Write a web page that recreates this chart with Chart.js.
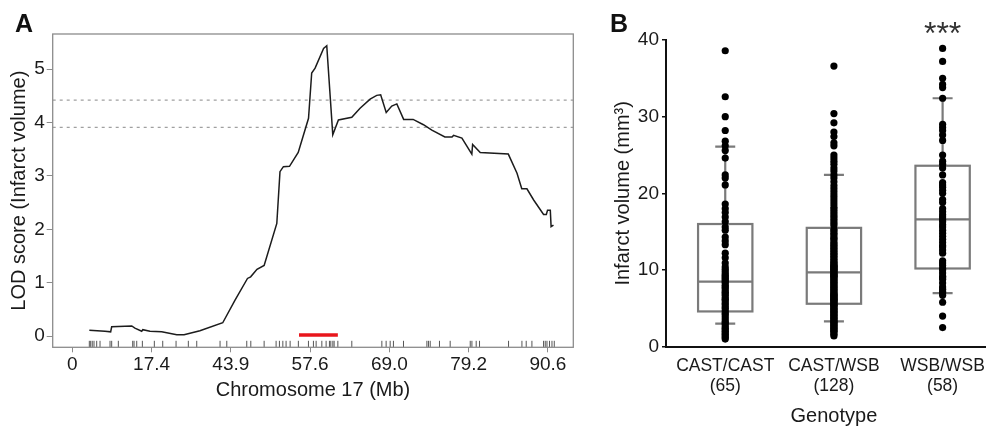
<!DOCTYPE html>
<html lang="en">
<head>
<meta charset="UTF-8">
<title>Chromosome 17 LOD scan and infarct volume by genotype</title>
<script src="https://cdn.jsdelivr.net/npm/chart.js@4.4.1/dist/chart.umd.min.js"></script>
<style>
  html, body { margin: 0; padding: 0; background: #fff; }
  #wrap { position: relative; width: 989px; height: 428px; overflow: hidden; }
  #lod { position: absolute; left: 0; top: 0; }
  #box { position: absolute; left: 600px; top: 0; }
</style>
</head>
<body>
<div id="wrap">
  <canvas id="lod" width="600" height="428"></canvas>
  <canvas id="box" width="389" height="428"></canvas>
</div>
<script>
// ---- panel A data (x in tick units: tick i sits at position i) ----
const xTickLabels = ['0', '17.4', '43.9', '57.6', '69.0', '79.2', '90.6'];
const lodTicks = [0, 1, 2, 3, 4, 5];
const lodPos = [0.215, 0.413, 0.484, 0.497, 0.75, 0.79, 0.876, 0.89, 0.98, 1.128,
  1.318, 1.41, 1.61, 1.898, 2.053, 2.21, 2.25, 2.33, 2.42, 2.58,
  2.62, 2.663, 2.74, 2.85, 2.98, 3.02, 3.063, 3.17, 3.21, 3.286,
  3.357, 3.526, 3.63, 3.757, 3.84, 3.89, 3.96, 4.03, 4.094, 4.18,
  4.30, 4.43, 4.536, 4.70, 4.79, 4.81, 4.915, 5.04, 5.05, 5.146,
  5.50, 5.61, 5.67, 5.735, 5.82, 5.945, 5.98, 5.995, 6.03, 6.04, 6.07];
const lodScore = [0.11, 0.09, 0.08, 0.175, 0.19, 0.15, 0.09, 0.12, 0.09, 0.08,
  0.025, 0.025, 0.10, 0.25, 0.675, 1.08, 1.11, 1.25, 1.325, 2.11,
  3.08, 3.175, 3.18, 3.44, 4.08, 4.93, 5.02, 5.39, 5.44, 3.77,
  4.05, 4.10, 4.27, 4.44, 4.51, 4.52, 4.19, 4.31, 4.35, 4.06,
  4.06, 3.96, 3.86, 3.73, 3.73, 3.76, 3.71, 3.41, 3.59, 3.44,
  3.41, 3.05, 2.76, 2.76, 2.55, 2.28, 2.28, 2.36, 2.36, 2.05, 2.08];
const thresholds = [4.42, 3.91];
const qtlInterval = [2.86, 3.35];
const markerPos = [0.215, 0.232, 0.252, 0.274, 0.308, 0.350, 0.476, 0.497, 0.581, 0.762,
  0.779, 0.813, 0.884, 1.035, 1.141, 1.309, 1.464, 1.570, 1.864, 1.949,
  2.201, 2.252, 2.420, 2.571, 2.613, 2.656, 2.697, 2.748, 2.852, 2.979,
  3.042, 3.076, 3.148, 3.202, 3.244, 3.261, 3.287, 3.303, 3.350, 3.526,
  3.905, 3.959, 4.010, 4.051, 4.178, 4.473, 4.493, 4.515, 4.632, 4.767,
  5.020, 5.041, 5.095, 5.137, 5.503, 5.672, 5.726, 5.798, 5.945, 5.966,
  5.988, 6.020, 6.051, 6.080];

// ---- panel B data ----
const genotypes = ['CAST/CAST', 'CAST/WSB', 'WSB/WSB'];
const groupSizes = [65, 128, 58];
const significance = ['', '', '***'];
const castCast = [38.6, 32.6, 30.0, 28.2, 26.8, 26.2, 25.6, 24.6, 22.4, 22.0,
  21.1, 18.6, 18.0, 17.5, 16.9, 16.3, 15.6, 15.2, 14.3, 13.8,
  13.3, 12.2, 11.6, 10.9, 10.4, 10.1, 9.8, 9.5, 9.3, 9.1,
  8.9, 8.7, 8.5, 8.3, 8.0, 7.8, 7.6, 7.3, 7.1, 6.9,
  6.7, 6.4, 6.2, 6.0, 5.7, 5.5, 5.2, 5.0, 4.7, 4.4,
  4.2, 3.9, 3.6, 3.3, 3.1, 2.9, 2.6, 2.4, 2.2, 2.0,
  1.8, 1.6, 1.4, 1.2, 1.0];
const castWsb = [36.6, 30.4, 29.2, 28.0, 27.4, 26.6, 26.2, 25.0, 24.6, 24.2,
  23.8, 23.3, 22.9, 22.4, 22.0, 21.5, 21.0, 20.6, 20.2, 19.8,
  19.4, 19.0, 18.6, 18.2, 17.9, 17.6, 17.3, 17.0, 16.7, 16.4,
  16.1, 15.8, 15.3, 15.1, 14.8, 14.6, 14.3, 14.1, 13.9, 13.6,
  13.4, 13.2, 13.0, 12.8, 12.6, 12.4, 12.2, 12.0, 11.8, 11.6,
  11.4, 11.2, 11.0, 10.9, 10.7, 10.6, 10.5, 10.4, 10.3, 10.2,
  10.1, 10.0, 9.9, 9.8, 9.6, 9.5, 9.4, 9.3, 9.2, 9.1,
  9.0, 8.8, 8.7, 8.5, 8.4, 8.2, 8.1, 7.9, 7.8, 7.6,
  7.5, 7.3, 7.2, 7.0, 6.9, 6.8, 6.7, 6.6, 6.5, 6.4,
  6.3, 6.2, 6.1, 6.0, 5.9, 5.8, 5.6, 5.5, 5.4, 5.3,
  5.2, 5.0, 4.9, 4.8, 4.6, 4.5, 4.4, 4.2, 4.1, 4.0,
  3.8, 3.7, 3.6, 3.4, 3.3, 3.2, 3.0, 2.9, 2.8, 2.6,
  2.5, 2.4, 2.2, 2.1, 2.0, 1.8, 1.6, 1.4];
const wsbWsb = [38.9, 37.2, 35.0, 34.2, 33.8, 32.4, 29.0, 28.6, 28.2, 27.6,
  26.9, 25.0, 24.2, 23.8, 23.3, 22.4, 21.4, 21.1, 20.8, 20.4,
  20.0, 19.2, 18.8, 18.0, 17.6, 17.2, 16.9, 16.6, 16.3, 15.9,
  15.6, 15.2, 14.8, 14.4, 14.0, 13.6, 13.2, 13.0, 12.6, 12.2,
  11.2, 10.9, 10.6, 10.2, 10.0, 9.6, 9.2, 9.0, 8.8, 8.3,
  7.8, 7.5, 7.2, 7.0, 6.7, 5.8, 4.0, 2.5];
const boxQ1 = [4.6, 5.6, 10.2];
const boxMedian = [8.5, 9.7, 16.6];
const boxQ3 = [16.0, 15.5, 23.6];
const whiskerLow = [3.0, 3.3, 7.0];
const whiskerHigh = [26.1, 22.4, 32.4];

Chart.defaults.font.family = "'Liberation Sans', Arial, sans-serif";
Chart.defaults.color = '#1a1a1a';

// panel letter
const panelLabel = {
  id: 'panelLabel',
  afterDraw(chart, args, opts) {
    const ctx = chart.ctx;
    ctx.save();
    ctx.font = 'bold 25px "Liberation Sans", Arial, sans-serif';
    ctx.fillStyle = '#111';
    ctx.textBaseline = 'alphabetic';
    ctx.fillText(opts.text, opts.x, opts.y);
    ctx.restore();
  }
};

// box round the plot area of A
const frame = {
  id: 'frame',
  afterDatasetsDraw(chart, args, opts) {
    const { ctx, chartArea: { left, top, width, height } } = chart;
    ctx.save();
    ctx.strokeStyle = opts.color;
    ctx.lineWidth = opts.width;
    ctx.strokeRect(left, top, width, height);
    ctx.restore();
  }
};

// boxes + whiskers for B
const boxes = {
  id: 'boxes',
  beforeDatasetsDraw(chart, args, opts) {
    const { ctx, scales: { x, y } } = chart;
    ctx.save();
    ctx.strokeStyle = opts.color;
    ctx.lineWidth = opts.width;
    genotypes.forEach((g, i) => {
      const l = x.getPixelForValue(i + 1 - opts.half);
      const r = x.getPixelForValue(i + 1 + opts.half);
      const cx = x.getPixelForValue(i + 1);
      const q1 = y.getPixelForValue(boxQ1[i]);
      const q3 = y.getPixelForValue(boxQ3[i]);
      const med = y.getPixelForValue(boxMedian[i]);
      const lo = y.getPixelForValue(whiskerLow[i]);
      const hi = y.getPixelForValue(whiskerHigh[i]);
      ctx.strokeRect(l, q3, r - l, q1 - q3);
      ctx.beginPath();
      ctx.moveTo(l, med); ctx.lineTo(r, med);
      ctx.moveTo(cx, q3); ctx.lineTo(cx, hi);
      ctx.moveTo(cx - opts.cap, hi); ctx.lineTo(cx + opts.cap, hi);
      ctx.moveTo(cx, q1); ctx.lineTo(cx, lo);
      ctx.moveTo(cx - opts.cap, lo); ctx.lineTo(cx + opts.cap, lo);
      ctx.stroke();
    });
    ctx.restore();
  }
};

// stars over groups + x title under the middle group
const notes = {
  id: 'notes',
  afterDraw(chart, args, opts) {
    const { ctx, scales: { x } } = chart;
    ctx.save();
    ctx.fillStyle = '#333';
    ctx.textAlign = 'center';
    ctx.font = '32px "Liberation Sans", Arial, sans-serif';
    significance.forEach((s, i) => {
      if (s) ctx.fillText(s, x.getPixelForValue(i + 1), 44);
    });
    ctx.fillStyle = '#1a1a1a';
    ctx.font = '20px "Liberation Sans", Arial, sans-serif';
    ctx.textBaseline = 'middle';
    ctx.fillText(opts.title, x.getPixelForValue(2), 416);
    ctx.restore();
  }
};

const X_MIN = -0.247, X_MAX = 6.32;

new Chart(document.getElementById('lod'), {
  type: 'scatter',
  data: {
    datasets: [
      {
        data: lodPos.map((p, i) => ({ x: p, y: lodScore[i] })),
        showLine: true, borderColor: '#1c1c1c', borderWidth: 1.5,
        pointRadius: 0, tension: 0
      },
      ...thresholds.map(t => ({
        data: [{ x: X_MIN, y: t }, { x: X_MAX, y: t }],
        showLine: true, borderColor: '#a0a0a0', borderWidth: 1.2,
        borderDash: [3, 4], pointRadius: 0
      })),
      {
        data: qtlInterval.map(p => ({ x: p, y: 0.02 })),
        showLine: true, borderColor: '#e8161c', borderWidth: 3.5, pointRadius: 0
      },
      {
        data: markerPos.map(p => ({ x: p, y: -0.15 })),
        pointStyle: 'line', rotation: 90, pointRadius: 3.3,
        borderColor: '#555', borderWidth: 1, clip: false
      }
    ]
  },
  options: {
    responsive: false,
    animation: false,
    layout: { padding: { top: 34, right: 26.7, left: 0, bottom: 0 } },
    plugins: {
      legend: { display: false },
      tooltip: { enabled: false },
      frame: { color: '#8c8c8c', width: 1.3 },
      panelLabel: { text: 'A', x: 15, y: 31.7 }
    },
    scales: {
      x: {
        type: 'linear', min: X_MIN, max: X_MAX,
        afterBuildTicks: s => { s.ticks = xTickLabels.map((_, i) => ({ value: i })); },
        afterFit: s => { s.height = 80.7; },
        ticks: {
          callback: v => xTickLabels[Math.round(v)],
          font: { size: 19 }, padding: 1, maxRotation: 0, autoSkip: false
        },
        grid: { drawOnChartArea: false, tickLength: 5, color: '#8c8c8c' },
        border: { display: false },
        title: { display: true, text: 'Chromosome 17 (Mb)', font: { size: 20 }, padding: { top: 0, bottom: 26 } }
      },
      y: {
        min: -0.21, max: 5.66,
        afterBuildTicks: s => { s.ticks = lodTicks.map(v => ({ value: v })); },
        afterFit: s => { s.width = 52.7; },
        ticks: { font: { size: 19 }, padding: 2 },
        grid: { drawOnChartArea: false, tickLength: 6, color: '#8c8c8c' },
        border: { display: false },
        title: { display: true, text: 'LOD score (Infarct volume)', font: { size: 20 }, padding: { top: 7, bottom: 0 } }
      }
    }
  },
  plugins: [frame, panelLabel]
});

const groups = [castCast, castWsb, wsbWsb];

new Chart(document.getElementById('box'), {
  type: 'scatter',
  data: {
    datasets: groups.map((vals, i) => ({
      data: vals.map(v => ({ x: i + 1, y: v })),
      pointRadius: 3.6, backgroundColor: '#000', borderWidth: 0, clip: false
    }))
  },
  options: {
    responsive: false,
    animation: false,
    layout: { padding: { top: 40, right: 0, left: 0, bottom: 0 } },
    plugins: {
      legend: { display: false },
      tooltip: { enabled: false },
      boxes: { color: '#7a7a7a', width: 2.2, half: 0.25, cap: 10 },
      notes: { title: 'Genotype' },
      panelLabel: { text: 'B', x: 10, y: 31.7 }
    },
    scales: {
      x: {
        type: 'linear', min: 0.455, max: 3.39,
        afterBuildTicks: s => { s.ticks = genotypes.map((_, i) => ({ value: i + 1 })); },
        afterFit: s => { s.height = 81.3; s.paddingLeft = 0; s.paddingRight = 0; },
        ticks: {
          callback: v => [genotypes[Math.round(v) - 1], '(' + groupSizes[Math.round(v) - 1] + ')'],
          font: { size: 17.5, lineHeight: 1.15 }, padding: 9, maxRotation: 0, autoSkip: false
        },
        grid: { display: false, drawTicks: false },
        border: { display: true, color: '#111', width: 2 },
        title: { display: false }
      },
      y: {
        min: 0, max: 40,
        afterFit: s => { s.width = 66; },
        ticks: { stepSize: 10, font: { size: 19 }, padding: 3 },
        grid: { drawOnChartArea: false, tickLength: 4, color: '#111', lineWidth: 1.5 },
        border: { display: true, color: '#111', width: 2 },
        title: { display: true, text: 'Infarct volume (mm³)', font: { size: 20 }, padding: { top: 11, bottom: 0 } }
      }
    }
  },
  plugins: [boxes, notes, panelLabel]
});
</script>
</body>
</html>
